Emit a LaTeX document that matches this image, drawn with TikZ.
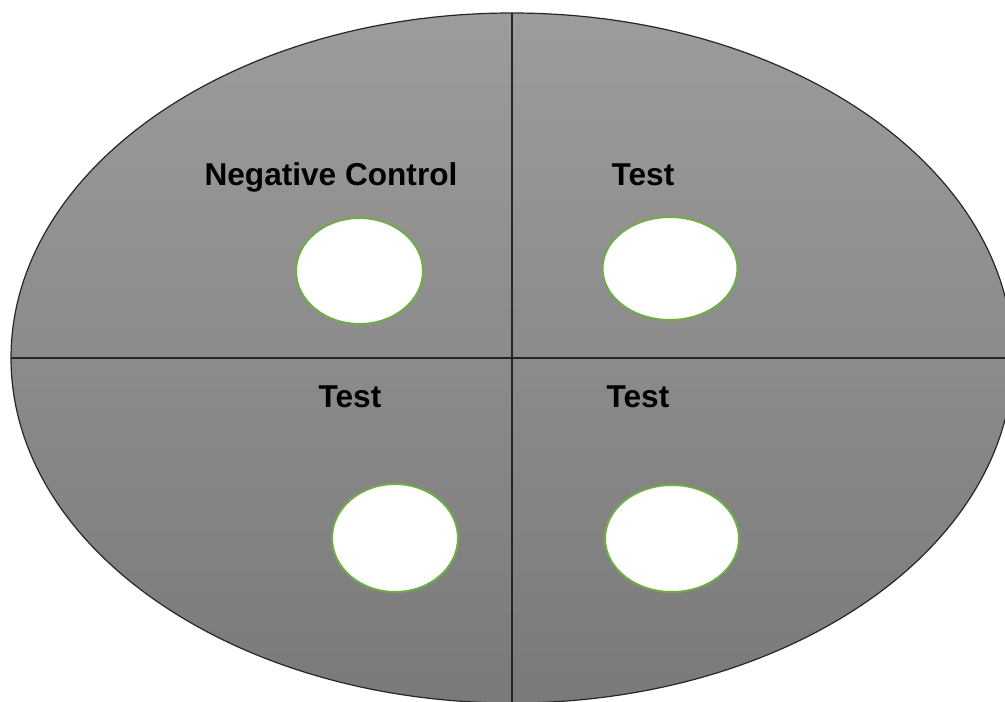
\documentclass[tikz,border=0pt]{standalone}
\usepackage{fontspec}
\setmainfont{Liberation Sans}
\usetikzlibrary{shapes.geometric}
\definecolor{plattop}{RGB}{156,156,156}
\definecolor{platbot}{RGB}{122,122,122}
\definecolor{rimgreen}{RGB}{112,173,71}
\tikzset{
  hole/.style={ellipse, draw=rimgreen, line width=2pt, fill=white, inner sep=0pt},
  lbl/.style={anchor=base, font=\fontsize{31.6}{36}\selectfont\bfseries, text=black, inner sep=0pt},
  divider/.style={draw=black!85, line width=1.5pt}
}
\begin{document}
\begin{tikzpicture}[x=1pt,y=-1pt]
\useasboundingbox (0,0) rectangle (1005,702);
\clip (0,0) rectangle (1005,702);
% plate
\shade[top color=plattop, bottom color=platbot] (512,358) ellipse [x radius=501pt, y radius=345pt];
\draw[black!85, line width=1.2pt] (512,358) ellipse [x radius=501pt, y radius=345pt];
\coordinate (ctop) at (512,13);
\coordinate (cbot) at (512,704);
\coordinate (cleft) at (11,358);
\coordinate (cright) at (1014,358);
\path[divider] (ctop) -- (cbot);
\path[divider] (cleft) -- (cright);
% wells
\node[hole, minimum width=127pt, minimum height=106pt] (w1) at (359.5,271) {};
\node[hole, minimum width=135pt, minimum height=103pt] (w2) at (670,268.5) {};
\node[hole, minimum width=126pt, minimum height=108pt] (w3) at (395,538) {};
\node[hole, minimum width=134pt, minimum height=107pt] (w4) at (672,538.5) {};
% labels
\node[lbl] (t1) at (331,185) {Negative Control};
\node[lbl] (t2) at (643,185) {Test};
\node[lbl] (t3) at (350,407) {Test};
\node[lbl] (t4) at (638,407) {Test};
\end{tikzpicture}
\end{document}
